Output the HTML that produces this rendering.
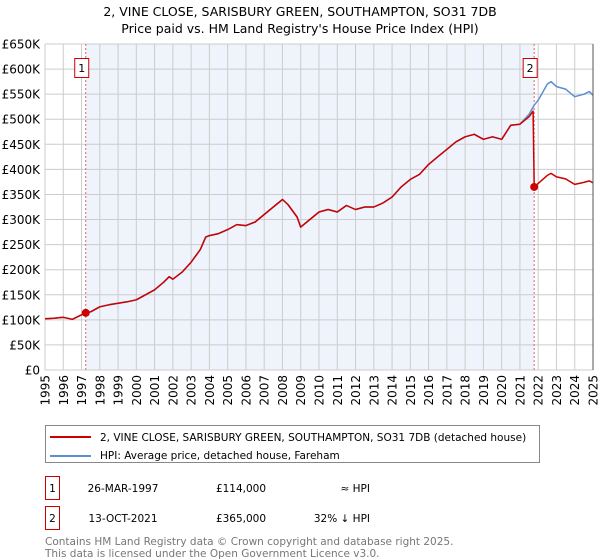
<!DOCTYPE html>
<html><head><meta charset="utf-8"><style>
body{margin:0;background:#fff;font-family:"DejaVu Sans","Liberation Sans",sans-serif;}
#wrap{position:relative;width:600px;height:560px;overflow:hidden}
svg text{font-family:"DejaVu Sans","Liberation Sans",sans-serif;}
</style></head><body><div id="wrap">
<svg id="chart" width="600" height="560" xmlns="http://www.w3.org/2000/svg">
<text x="300" y="16" text-anchor="middle" font-size="12.5" fill="#000">2, VINE CLOSE, SARISBURY GREEN, SOUTHAMPTON, SO31 7DB</text>
<text x="300" y="33" text-anchor="middle" font-size="12.5" fill="#000">Price paid vs. HM Land Registry's House Price Index (HPI)</text>
<g id="plot"></g>
<g>
<rect x="45.5" y="425.5" width="494" height="37" fill="#fff" stroke="#888"/>
<line x1="50" y1="437" x2="91" y2="437" stroke="#cc0000" stroke-width="2"/>
<text x="100" y="441" font-size="10.5">2, VINE CLOSE, SARISBURY GREEN, SOUTHAMPTON, SO31 7DB (detached house)</text>
<line x1="50" y1="456" x2="91" y2="456" stroke="#5b8fd0" stroke-width="2"/>
<text x="100" y="459" font-size="10.5">HPI: Average price, detached house, Fareham</text>
</g>
<g font-size="10.5">
<rect x="45.5" y="476.5" width="14" height="23" fill="#fff" stroke="#cc0000"/>
<text x="52.5" y="492" text-anchor="middle">1</text>
<text x="123" y="492" text-anchor="middle">26-MAR-1997</text>
<text x="241" y="492" text-anchor="middle">£114,000</text>
<text x="370" y="492" text-anchor="end">≈ HPI</text>
<rect x="45.5" y="506.5" width="14" height="23" fill="#fff" stroke="#cc0000"/>
<text x="52.5" y="522" text-anchor="middle">2</text>
<text x="123" y="522" text-anchor="middle">13-OCT-2021</text>
<text x="241" y="522" text-anchor="middle">£365,000</text>
<text x="370" y="522" text-anchor="end">32% ↓ HPI</text>
</g>
<text x="45" y="545" font-size="10.5" fill="#777">Contains HM Land Registry data © Crown copyright and database right 2025.</text>
<text x="45" y="557" font-size="10.5" fill="#777">This data is licensed under the Open Government Licence v3.0.</text>
</svg>
</div>
<script>
const hpiDates=[1995.0,1995.5,1996.0,1996.5,1997.0,1997.23,1997.5,1998.0,1998.5,1999.0,1999.5,2000.0,2000.5,2001.0,2001.5,2001.8,2002.0,2002.5,2003.0,2003.5,2003.8,2004.0,2004.5,2005.0,2005.5,2006.0,2006.5,2007.0,2007.5,2008.0,2008.3,2008.8,2009.0,2009.5,2010.0,2010.5,2011.0,2011.5,2012.0,2012.5,2013.0,2013.5,2014.0,2014.5,2015.0,2015.5,2016.0,2016.5,2017.0,2017.5,2018.0,2018.5,2019.0,2019.5,2020.0,2020.5,2021.0,2021.5,2021.78,2022.0,2022.5,2022.7,2023.0,2023.5,2024.0,2024.5,2024.8,2025.0];
const hpiValues=[102,103,105,101,110,114,116,126,130,133,136,140,150,160,175,186,181,195,215,240,265,268,272,280,290,288,295,310,325,340,330,305,285,300,315,320,315,328,320,325,325,333,345,365,380,390,410,425,440,455,465,470,460,465,460,488,490,510,528,538,570,575,565,560,545,550,555,548];
const propDates=[1995.0,1995.5,1996.0,1996.5,1997.0,1997.23,1997.5,1998.0,1998.5,1999.0,1999.5,2000.0,2000.5,2001.0,2001.5,2001.8,2002.0,2002.5,2003.0,2003.5,2003.8,2004.0,2004.5,2005.0,2005.5,2006.0,2006.5,2007.0,2007.5,2008.0,2008.3,2008.8,2009.0,2009.5,2010.0,2010.5,2011.0,2011.5,2012.0,2012.5,2013.0,2013.5,2014.0,2014.5,2015.0,2015.5,2016.0,2016.5,2017.0,2017.5,2018.0,2018.5,2019.0,2019.5,2020.0,2020.5,2021.0,2021.5,2021.72,2021.78,2022.0,2022.5,2022.7,2023.0,2023.5,2024.0,2024.5,2024.8,2025.0];
const propValues=[102,103,105,101,110,114,116,126,130,133,136,140,150,160,175,186,181,195,215,240,265,268,272,280,290,288,295,310,325,340,330,305,285,300,315,320,315,328,320,325,325,333,345,365,380,390,410,425,440,455,465,470,460,465,460,488,490,505,516,365,372,388,392,385,381,370,374,377,373];
const saleDates=[1997.23,2021.78];
const salePrices=[114,365];
const saleLabels=["1","2"];
const yTicks=[0,50,100,150,200,250,300,350,400,450,500,550,600,650];
const yTickLabels=["£0","£50K","£100K","£150K","£200K","£250K","£300K","£350K","£400K","£450K","£500K","£550K","£600K","£650K"];
const xYears=[1995,1996,1997,1998,1999,2000,2001,2002,2003,2004,2005,2006,2007,2008,2009,2010,2011,2012,2013,2014,2015,2016,2017,2018,2019,2020,2021,2022,2023,2024,2025];

const L=45,R=593,T=44,B=370;
const X=t=>L+(t-1995)/30*(R-L);
const Y=v=>B-v/650*(B-T);
const NS="http://www.w3.org/2000/svg";
const g=document.getElementById('plot');
function mk(tag,attrs,parent){const e=document.createElementNS(NS,tag);for(const k in attrs)e.setAttribute(k,attrs[k]);(parent||g).appendChild(e);return e;}

const band=mk('rect',{x:X(saleDates[0]),y:T,width:X(saleDates[1])-X(saleDates[0]),height:B-T,fill:'#eef3fc'});



yTicks.forEach((v,i)=>{
  const ln=mk('line',{x1:L,x2:R,y1:Y(v),y2:Y(v),stroke:'#cccccc','stroke-width':1});
  
  
  const t=mk('text',{x:L-5,y:Y(v)+4.5,'text-anchor':'end','font-size':'12',fill:'#000'});
  t.textContent=yTickLabels[i];
  
  
});
xYears.forEach(yr=>{
  const ln=mk('line',{x1:X(yr),x2:X(yr),y1:T,y2:B,stroke:'#cccccc','stroke-width':1});
  
  
  const t=mk('text',{x:0,y:0,'text-anchor':'end','font-size':'12',fill:'#000',transform:`translate(${X(yr)+4.5},${B+5}) rotate(-90)`});
  t.textContent=yr;
  
  
});

saleDates.forEach((d,i)=>{
  const ln=mk('line',{x1:X(d),x2:X(d),y1:T,y2:B,stroke:'#e06666','stroke-width':1,'stroke-dasharray':'2,2'});
  
  
});

function path(ds,vs,color,w,name){
  let d='';ds.forEach((t,i)=>{d+=(i?'L':'M')+X(t).toFixed(1)+','+Y(vs[i]).toFixed(1);});
  const p=mk('path',{d:d,fill:'none',stroke:color,'stroke-width':w,'stroke-linejoin':'round'});
  
  
}
path(hpiDates,hpiValues,'#5b8fd0',1.5,'hpi-line');
path(propDates,propValues,'#cc0000',1.5,'property-price-line');

saleDates.forEach((d,i)=>{
  const c=mk('circle',{cx:X(d),cy:Y(salePrices[i]),r:4,fill:'#cc0000'});
  
  
  const bx=X(d)-4;
  const r=mk('rect',{x:bx-7,y:58.5,width:14,height:19,fill:'#fff',stroke:'#cc0000'});
  
  
  const t=mk('text',{x:bx,y:72,'text-anchor':'middle','font-size':'11'});
  t.textContent=saleLabels[i];
  
  
});
const ax=mk('line',{x1:R,x2:R,y1:T,y2:B,stroke:'#555','stroke-width':1});


</script>
</body></html>
